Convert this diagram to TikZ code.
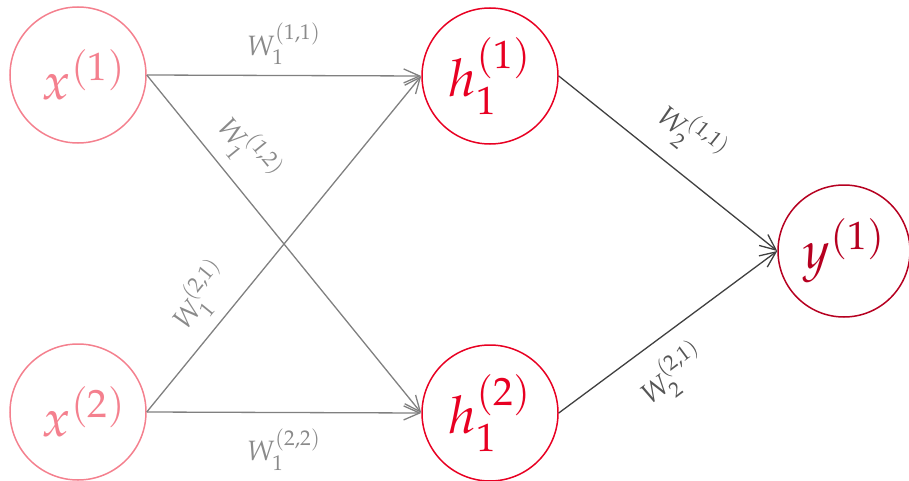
\documentclass[tikz,border=0pt]{standalone}
\usepackage{mathpazo}
\usetikzlibrary{arrows.meta}
\definecolor{xcol}{RGB}{244,128,142}
\definecolor{hcol}{RGB}{232,0,34}
\definecolor{ycol}{RGB}{182,0,32}
\definecolor{eone}{RGB}{128,128,128}
\definecolor{etwo}{RGB}{64,64,64}
\definecolor{lone}{RGB}{138,138,138}
\definecolor{ltwo}{RGB}{85,85,85}
\begin{document}
\begin{tikzpicture}[x=0.5pt,y=-0.5pt,
  neuron/.style={circle, draw, line width=0.75pt, minimum size=68pt, inner sep=0pt,
    font=\fontsize{26}{30}\selectfont},
  edgeone/.style={draw=eone, line width=0.65pt, -{Straight Barb[length=8pt,width=7pt]}},
  edgetwo/.style={draw=etwo, line width=0.65pt, -{Straight Barb[length=8pt,width=7pt]}},
  labone/.style={text=lone, font=\fontsize{14}{16}\selectfont, inner sep=1pt},
  labtwo/.style={text=ltwo, font=\fontsize{14}{16}\selectfont, inner sep=1pt}]
\useasboundingbox (0,0) rectangle (909,481);
\node[neuron, draw=xcol, text=xcol] (x1) at (78,75) {\hspace{6pt}$x^{(1)}$};
\node[neuron, draw=xcol, text=xcol] (x2) at (78,412) {\hspace{6pt}$x^{(2)}$};
\node[neuron, draw=hcol, text=hcol] (h1) at (490,76) {$h_1^{(1)}$};
\node[neuron, draw=hcol, text=hcol] (h2) at (490,413) {$h_1^{(2)}$};
\node[neuron, draw=ycol, text=ycol, minimum size=66pt] (y) at (844,251) {$y^{(1)}$};
\draw[edgeone] (x1.east) -- node[labone, above=4pt, pos=0.5] {$W_1^{(1,1)}$} (h1.west);
\draw[edgeone] (x1.east) -- node[labone, sloped, above=4pt, pos=0.28] {$W_1^{(1,2)}$} (h2.west);
\draw[edgeone] (x2.east) -- node[labone, sloped, above=4pt, pos=0.285] {$W_1^{(2,1)}$} (h1.west);
\draw[edgeone] (x2.east) -- node[labone, below=7pt, pos=0.5] {$W_1^{(2,2)}$} (h2.west);
\draw[edgetwo] (h1.east) -- node[labtwo, sloped, above=7pt, pos=0.5] {$W_2^{(1,1)}$} (y.west);
\draw[edgetwo] (h2.east) -- node[labtwo, sloped, below=7pt, pos=0.42] {$W_2^{(2,1)}$} (y.west);
\end{tikzpicture}
\end{document}
